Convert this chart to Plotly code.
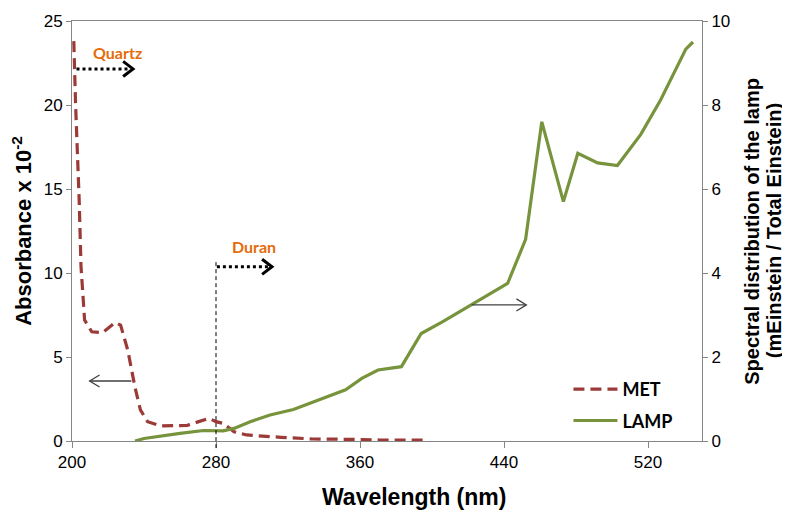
import plotly.graph_objects as go

# MET absorbance (x 10^-2) vs wavelength (nm)
met_wl = [201, 202, 204, 205, 207, 211, 217, 224, 227, 231, 235, 238, 242, 249, 264,
          271, 276, 280, 284, 290, 297, 316, 334, 353, 371, 398]
met_abs = [23.8, 20.0, 14.3, 10.4, 7.2, 6.5, 6.45, 7.05, 6.9, 5.4, 3.2, 1.85, 1.15, 0.9, 0.93,
           1.15, 1.35, 1.15, 1.05, 0.55, 0.36, 0.22, 0.12, 0.1, 0.06, 0.06]

# Lamp spectral distribution (mEinstein / Total Einstein)
lamp_wl = [235, 240, 260, 273, 284, 290, 299, 310, 323, 338, 352, 361, 370, 383, 394,
           406, 422, 428, 442, 452, 461, 473, 481, 492, 503, 516, 527, 541, 545]
lamp_val = [0.0, 0.06, 0.18, 0.25, 0.24, 0.3, 0.46, 0.62, 0.75, 1.0, 1.22, 1.49, 1.69, 1.77, 2.56,
            2.84, 3.24, 3.4, 3.75, 4.8, 7.6, 5.7, 6.85, 6.62, 6.56, 7.3, 8.12, 9.33, 9.5]

x_ticks = [200, 280, 360, 440, 520]

MET_COLOR = "#9B3A37"
LAMP_COLOR = "#77933C"
AXIS_COLOR = "#868686"
ORANGE = "#E46C0A"
ARROW_COLOR = "#404040"
TICK_FONT = dict(family="Liberation Sans, Arial", size=17, color="#000000")
TITLE_FONT = dict(family="Liberation Sans, Arial", size=22, color="#000000")
XTITLE_FONT = dict(family="Liberation Sans, Arial", size=23, color="#000000")
RTITLE_FONT = dict(family="Liberation Sans, Arial", size=20, color="#000000")

fig = go.Figure()
fig.add_trace(go.Scatter(
    x=met_wl, y=met_abs, name="MET", mode="lines", legendgroup="a",
    line=dict(color=MET_COLOR, width=3.2, dash="11px,6px"), yaxis="y"))
fig.add_trace(go.Scatter(
    x=lamp_wl, y=lamp_val, name="LAMP", mode="lines", legendgroup="b",
    line=dict(color=LAMP_COLOR, width=3.2), yaxis="y2"))

# The page body has an 8px margin, so the figure is 8px smaller and the
# top/left margins are reduced accordingly.
fig.update_layout(
    width=782, height=503,
    margin=dict(l=64, r=88, t=13, b=70),
    paper_bgcolor="white", plot_bgcolor="white",
    showlegend=True,
    legend=dict(x=0.788, y=0.005, xanchor="left", yanchor="bottom",
                bgcolor="rgba(0,0,0,0)", tracegroupgap=5, itemwidth=44,
                font=dict(family="Lato, Liberation Sans", size=18, color="#000000", weight="bold")),
    xaxis=dict(range=[200, 550], tickvals=x_ticks, ticks="outside", ticklen=6,
               tickcolor=AXIS_COLOR, showline=True, linecolor=AXIS_COLOR, linewidth=1,
               mirror=True, showgrid=False, zeroline=False, tickfont=TICK_FONT,
               automargin=False),
    yaxis=dict(range=[0, 25], dtick=5, ticks="outside", ticklen=5, tickcolor=AXIS_COLOR,
               showline=True, linecolor=AXIS_COLOR, linewidth=1, showgrid=False,
               zeroline=False, tickfont=TICK_FONT, automargin=False,
               title=dict(text="<b>Absorbance x 10<sup>-2</sup></b>", font=TITLE_FONT, standoff=6)),
    yaxis2=dict(range=[0, 10], dtick=2, ticks="outside", ticklen=5, tickcolor=AXIS_COLOR,
                overlaying="y", side="right", showline=True, linecolor=AXIS_COLOR,
                linewidth=1, showgrid=False, zeroline=False, tickfont=TICK_FONT,
                automargin=False),
)

# Axis titles placed as in the reference
fig.add_annotation(xref="paper", yref="paper", x=0.543, y=-0.133, xanchor="center",
                   yanchor="middle", text="<b>Wavelength (nm)</b>", showarrow=False,
                   font=XTITLE_FONT)
fig.add_annotation(xref="paper", yref="paper", x=1.079, y=0.5, xanchor="center",
                   yanchor="middle", textangle=-90, showarrow=False,
                   text="<b>Spectral distribution of the lamp</b>", font=RTITLE_FONT)
fig.add_annotation(xref="paper", yref="paper", x=1.1145, y=0.5, xanchor="center",
                   yanchor="middle", textangle=-90, showarrow=False,
                   text="<b>(mEinstein / Total Einstein)</b>", font=RTITLE_FONT)

LABEL_FONT = dict(family="Lato, Liberation Sans", size=16, color=ORANGE, weight="bold")

# Quartz marker: dotted arrow with open chevron head
fig.add_shape(type="line", xref="x", yref="y", x0=202.5, x1=232.5, y0=22.15, y1=22.15,
              line=dict(color="black", width=3, dash="dot"))
fig.add_shape(type="path", xref="x", yref="y", path="M 228.4,22.6 L 233.9,22.15 L 228.4,21.7",
              line=dict(color="black", width=3))
fig.add_annotation(xref="x", yref="y", x=225, y=23.15, text="<b>Quartz</b>", showarrow=False,
                   font=LABEL_FONT)

# Duran marker: vertical dashed line + dotted arrow
fig.add_shape(type="line", xref="x", yref="paper", x0=280, x1=280, y0=-0.017, y1=0.433,
              line=dict(color="black", width=1, dash="4px,3px"))
fig.add_shape(type="line", xref="x", yref="y", x0=280.5, x1=310, y0=10.37, y1=10.37,
              line=dict(color="black", width=3, dash="dot"))
fig.add_shape(type="path", xref="x", yref="y", path="M 305.6,10.82 L 311.1,10.37 L 305.6,9.92",
              line=dict(color="black", width=3))
fig.add_annotation(xref="x", yref="y", x=301, y=11.55, text="<b>Duran</b>", showarrow=False,
                   font=LABEL_FONT)

# Axis indicator arrows (left one points to the left axis, right one to the right axis)
fig.add_shape(type="line", xref="x", yref="y", x0=209.8, x1=233, y0=3.57, y1=3.57,
              line=dict(color=ARROW_COLOR, width=1.3))
fig.add_shape(type="path", xref="x", yref="y", path="M 215.3,3.93 L 209.8,3.57 L 215.3,3.21",
              line=dict(color=ARROW_COLOR, width=1.3))
fig.add_shape(type="line", xref="x", yref="y2", x0=422, x1=452.4, y0=3.24, y1=3.24,
              line=dict(color=ARROW_COLOR, width=1.3))
fig.add_shape(type="path", xref="x", yref="y2", path="M 446.9,3.385 L 452.4,3.24 L 446.9,3.095",
              line=dict(color=ARROW_COLOR, width=1.3))

fig.write_html("out.html")
